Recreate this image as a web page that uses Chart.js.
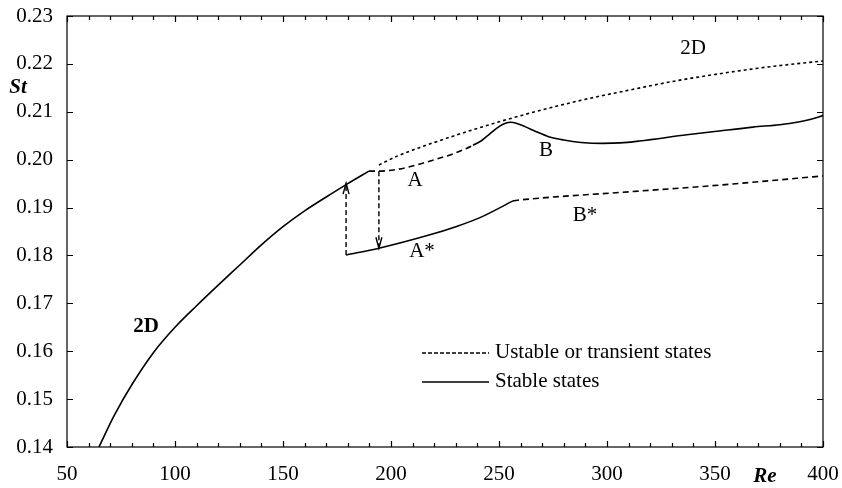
<!DOCTYPE html>
<html>
<head>
<meta charset="utf-8">
<script src="https://cdn.jsdelivr.net/npm/chart.js@4.4.0/dist/chart.umd.min.js"></script>
<style>
  html, body { margin: 0; padding: 0; background: #fff; }
  #wrap { width: 842px; height: 488px; }
</style>
</head>
<body>
<div id="wrap"><canvas id="ctx_st_re"></canvas></div>
<script>
// stable 2D branch (solid, lower left)
var mainRe = [64.8, 72, 80, 90, 100, 110, 120, 130, 140, 150, 160, 170, 180, 189.8];
var mainSt = [0.1400, 0.1467, 0.1530, 0.1597, 0.1650, 0.1695, 0.1738, 0.1780, 0.1822, 0.1860, 0.1893, 0.1922, 0.1950, 0.1976];

// branch A (dashed) then B (solid)
var aRe = [189.8, 194.4, 203.2, 211, 219.4, 228, 235.2, 238];
var aSt = [0.1976, 0.1976, 0.1980, 0.1988, 0.1999, 0.2011, 0.2024, 0.2030];
var bRe = [238, 242, 246, 250, 253, 255.5, 258, 262, 267, 273, 280, 288, 298, 306, 315, 337, 352, 367.6, 380, 388, 394, 400];
var bSt = [0.2030, 0.2040, 0.2055, 0.2069, 0.2076, 0.2078, 0.2076, 0.2069, 0.2059, 0.2048, 0.2041, 0.2036, 0.2034, 0.2035, 0.2039, 0.2052, 0.2060, 0.2068, 0.2073, 0.2078, 0.2084, 0.2092];

// unstable 2D continuation (dotted)
var twoDRe = [194.4, 203.2, 215, 230, 250, 270, 290, 310, 330, 350, 370, 385, 400];
var twoDSt = [0.1989, 0.2008, 0.2028, 0.2051, 0.2079, 0.2104, 0.2126, 0.2145, 0.2163, 0.2178, 0.2191, 0.2199, 0.2206];

// branch A* (solid) then B* (dashed)
var aStarRe = [179.2, 194.4, 218, 230, 241.2, 256.5];
var aStarSt = [0.1801, 0.1815, 0.1843, 0.1860, 0.1879, 0.1914];
var bStarRe = [256.5, 260, 310.6, 352.3, 400];
var bStarSt = [0.1914, 0.1916, 0.1933, 0.1947, 0.1966];

// hysteresis jumps
var jumpUp = { re: 179.2, from: 0.1801, to: 0.1951 };
var jumpDown = { re: 194.4, from: 0.1976, to: 0.1815 };

var xTicksMajor = [50, 100, 150, 200, 250, 300, 350, 400];
var legendLabels = ['Ustable or transient states', 'Stable states'];

var serif = "'Liberation Serif', 'Times New Roman', serif";

function pts(xs, ys) {
    return xs.map(function (x, i) { return { x: x, y: ys[i] }; });
}

function lineSet(xs, ys, dash, width) {
    return {
        data: pts(xs, ys),
        borderColor: '#000',
        borderWidth: width || 1.6,
        borderDash: dash || [],
        pointRadius: 0,
        fill: false,
        cubicInterpolationMode: 'monotone'
    };
}

var decor = {
    id: 'decor',
    afterDraw: function (chart) {
        var c = chart.ctx;
        var xs = chart.scales.x, ys = chart.scales.y;
        var a = chart.chartArea;
        c.save();
        c.strokeStyle = '#000';
        c.lineWidth = 1.2;
        c.setLineDash([]);
        c.strokeRect(a.left, a.top, a.right - a.left, a.bottom - a.top);

        // inward ticks, x
        xs.ticks.forEach(function (t) {
            var px = Math.round(xs.getPixelForValue(t.value)) + 0.5;
            var len = (t.value % 50 === 0) ? 6 : 4;
            c.beginPath();
            c.moveTo(px, a.bottom); c.lineTo(px, a.bottom - len);
            c.moveTo(px, a.top); c.lineTo(px, a.top + len);
            c.stroke();
        });
        // inward ticks, y
        ys.ticks.forEach(function (t) {
            var py = Math.round(ys.getPixelForValue(t.value)) + 0.5;
            c.beginPath();
            c.moveTo(a.left, py); c.lineTo(a.left + 6, py);
            c.moveTo(a.right, py); c.lineTo(a.right - 6, py);
            c.stroke();
        });

        // jump arrows
        c.lineWidth = 1.4;
        [jumpUp, jumpDown].forEach(function (j) {
            var px = xs.getPixelForValue(j.re);
            var y0 = ys.getPixelForValue(j.from), y1 = ys.getPixelForValue(j.to);
            c.setLineDash([5, 3]);
            c.beginPath(); c.moveTo(px, y0); c.lineTo(px, y1); c.stroke();
            var dir = y1 < y0 ? 1 : -1;
            c.setLineDash([]);
            c.beginPath();
            c.moveTo(px - 3, y1 + dir * 11); c.lineTo(px, y1); c.lineTo(px + 3, y1 + dir * 11);
            c.stroke();
        });

        // legend
        var lx0 = 422, lx1 = 489;
        c.lineWidth = 1.4;
        c.setLineDash([4, 2]);
        c.beginPath(); c.moveTo(lx0, 353); c.lineTo(lx1, 353); c.stroke();
        c.setLineDash([]);
        c.beginPath(); c.moveTo(lx0, 382); c.lineTo(lx1, 382); c.stroke();
        c.fillStyle = '#000';
        c.font = '21px ' + serif;
        c.textAlign = 'left';
        c.textBaseline = 'middle';
        c.fillText(legendLabels[0], 495, 352);
        c.fillText(legendLabels[1], 495, 381);

        // curve labels
        c.textAlign = 'center';
        c.fillText('2D', 693, 48);
        c.fillText('A', 415, 180);
        c.fillText('B', 546, 150);
        c.fillText('A*', 422, 251);
        c.fillText('B*', 585, 215);
        c.font = 'bold 21px ' + serif;
        c.fillText('2D', 146, 327);

        // axis titles
        c.font = 'italic bold 21px ' + serif;
        c.fillText('St', 18, 88);
        c.fillText('Re', 765, 477);
        c.restore();
    }
};

var ctx = document.getElementById('ctx_st_re');
var myChart = new Chart(ctx, {
    type: 'line',
    data: {
        datasets: [
            lineSet(mainRe, mainSt),
            lineSet(aRe, aSt, [6, 4]),
            lineSet(bRe, bSt),
            lineSet(twoDRe, twoDSt, [3, 3]),
            lineSet(aStarRe, aStarSt),
            lineSet(bStarRe, bStarSt, [6, 4])
        ]
    },
    options: {
        responsive: true,
        maintainAspectRatio: false,
        animation: false,
        layout: { padding: { top: 16, right: 19, left: 0, bottom: 0 } },
        plugins: { legend: { display: false }, tooltip: { enabled: false } },
        scales: {
            x: {
                type: 'linear',
                min: 50,
                max: 400,
                grid: { display: false, drawTicks: false },
                border: { display: false },
                afterFit: function (s) {
                    s.height = 41;
                    s.paddingLeft = 0; s.paddingRight = 0;
                },
                ticks: {
                    stepSize: 10,
                    autoSkip: false,
                    maxRotation: 0,
                    padding: 15,
                    color: '#000',
                    font: { family: serif, size: 21 },
                    callback: function (v) { return xTicksMajor.indexOf(v) >= 0 ? String(v) : ''; }
                }
            },
            y: {
                min: 0.14,
                max: 0.23,
                grid: { display: false, drawTicks: false },
                border: { display: false },
                afterFit: function (s) {
                    s.width = 67;
                    s.paddingTop = 0; s.paddingBottom = 0;
                },
                ticks: {
                    stepSize: 0.01,
                    padding: 14,
                    color: '#000',
                    font: { family: serif, size: 21 },
                    callback: function (v) { return Number(v).toFixed(2); }
                }
            }
        }
    },
    plugins: [decor]
});
</script>
</body>
</html>
